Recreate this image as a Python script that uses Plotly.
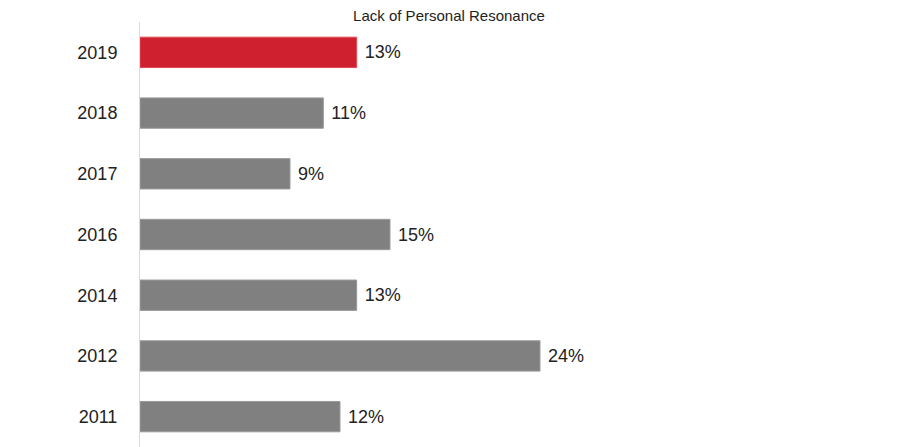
import plotly.graph_objects as go

YEARS = ["2019", "2018", "2017", "2016", "2014", "2012", "2011"]
VALUES = [13, 11, 9, 15, 13, 24, 12]
LABELS = [f" {v}%" for v in VALUES]

RED = "#CE202E"
GRAY = "#808080"
FONT = "Liberation Sans"

# page body has an 8px margin, so shift everything up/left by 8
OFF = 8

colors = [RED if y == "2019" else GRAY for y in YEARS]
edges = ["#E04A55" if y == "2019" else "#9A9A9A" for y in YEARS]

fig = go.Figure(
    go.Bar(
        x=VALUES,
        y=YEARS,
        orientation="h",
        marker=dict(color=colors, line=dict(color=edges, width=1)),
        text=LABELS,
        textposition="outside",
        textfont=dict(size=18, color="#222222", family=FONT),
        cliponaxis=False,
    )
)

fig.update_layout(
    width=900,
    height=447,
    margin=dict(l=140 - OFF, r=OFF, t=22 - OFF, b=OFF, autoexpand=False),
    paper_bgcolor="white",
    plot_bgcolor="white",
    bargap=0.5,
    showlegend=False,
    font=dict(family=FONT, color="#222222"),
    title=dict(
        text="Lack of Personal Resonance",
        x=(449 - OFF) / 900,
        xref="container",
        xanchor="center",
        y=1,
        yref="container",
        yanchor="top",
        pad=dict(t=2),
        font=dict(size=15, color="#222222", family=FONT),
    ),
)

fig.update_xaxes(
    range=[0, 45.6],
    visible=False,
    showgrid=False,
    zeroline=False,
)

fig.update_yaxes(
    categoryorder="array",
    categoryarray=YEARS[::-1],
    showline=True,
    linecolor="#D9D9D9",
    linewidth=1,
    showgrid=False,
    ticks="",
    automargin=False,
    ticklabelstandoff=18,
    tickfont=dict(size=18, color="#222222", family=FONT),
)

fig.write_html("out.html")
